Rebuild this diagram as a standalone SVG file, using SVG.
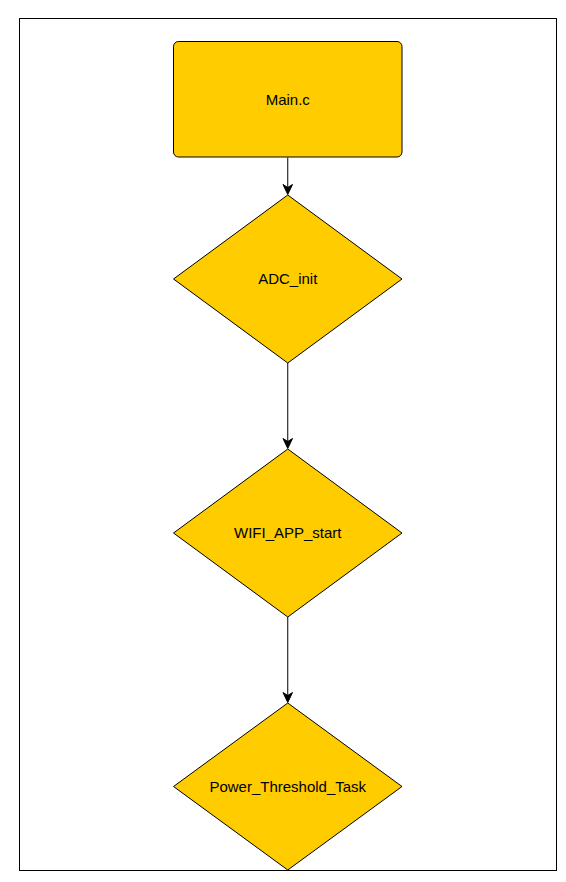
<svg xmlns="http://www.w3.org/2000/svg" width="566" height="882" viewBox="0 0 566 882">
<style>
.shape{fill:#ffcc00;stroke:#000;stroke-width:1}
.lbl{font-family:"Liberation Sans",Arial,sans-serif;font-size:15px;fill:#000;text-anchor:middle;dominant-baseline:central}
.edge{fill:none;stroke:#000;stroke-width:1}
.head{fill:#000;stroke:#000;stroke-width:1}
</style>
<rect width="566" height="882" fill="#fff"/>
<rect x="19.5" y="18.5" width="537" height="852" fill="none" stroke="#000" stroke-width="1"/>
<g id="connectors">
<path class="edge" d="M287.75 157.5 V188"/>
<path class="head" d="M287.75 194.5 L283 184.5 L287.75 187.5 L292.5 184.5 Z"/>
<path class="edge" d="M287.75 363 V442"/>
<path class="head" d="M287.75 448.5 L283 438.5 L287.75 441.5 L292.5 438.5 Z"/>
<path class="edge" d="M287.75 617 V696"/>
<path class="head" d="M287.75 702.5 L283 692.5 L287.75 695.5 L292.5 692.5 Z"/>
</g>
<g id="main">
<rect class="shape" x="173.5" y="41.5" width="228.5" height="115.5" rx="5" ry="5"/>
<text class="lbl" x="287.75" y="99">Main.c</text>
</g>
<g id="adc">
<path class="shape" d="M287.75 195 L402 279 L287.75 363 L173.5 279 Z"/>
<text class="lbl" x="287.75" y="278">ADC_init</text>
</g>
<g id="wifi">
<path class="shape" d="M287.75 449 L402 533 L287.75 617 L173.5 533 Z"/>
<text class="lbl" x="287.75" y="532">WIFI_APP_start</text>
</g>
<g id="power">
<path class="shape" d="M287.75 703 L402 786.5 L287.75 870 L173.5 786.5 Z"/>
<text class="lbl" x="287.75" y="786">Power_Threshold_Task</text>
</g>
</svg>
